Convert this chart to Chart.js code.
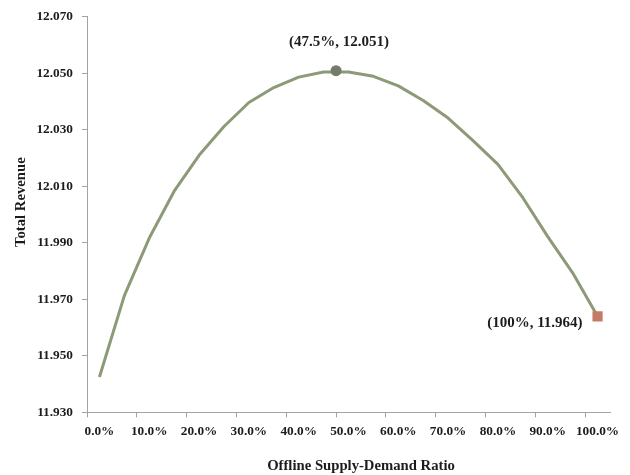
<!DOCTYPE html>
<html>
<head>
<meta charset="utf-8">
<title>Total Revenue vs Offline Supply-Demand Ratio</title>
<script src="https://cdn.jsdelivr.net/npm/chart.js@4.4.1/dist/chart.umd.min.js"></script>
<style>
  html, body { margin: 0; padding: 0; background: #fff; }
  #myChart { display: block; }
</style>
</head>
<body>
<canvas id="myChart" width="630" height="475"></canvas>
<script>
// offline supply-demand ratio (%), one point every 5%
var ratios = [0, 5, 10, 15, 20, 25, 30, 35, 40, 45, 50, 55, 60, 65, 70, 75, 80, 85, 90, 95, 100];
var revenue = [11.9425, 11.9713, 11.9917, 12.0083, 12.0210, 12.0312, 12.0397, 12.0450, 12.0487, 12.0505, 12.0505,
               12.0490, 12.0456, 12.0404, 12.0342, 12.0262, 12.0178, 12.0060, 11.9922, 11.9794, 11.9640];

// highlighted points
var peakPoint = [47.5, 12.051];
var endPoint = [100, 11.964];
var peakLabel = "(47.5%, 12.051)";
var endLabel = "(100%, 11.964)";

// axis ticks (x tick marks sit between the 5% categories)
var xTickMarks = [-2.5, 7.5, 17.5, 27.5, 37.5, 47.5, 57.5, 67.5, 77.5, 87.5, 97.5];
var xTickLabels = ["0.0%", "10.0%", "20.0%", "30.0%", "40.0%", "50.0%", "60.0%", "70.0%", "80.0%", "90.0%", "100.0%"];
var yTicks = [11.930, 11.950, 11.970, 11.990, 12.010, 12.030, 12.050, 12.070];

var xTitle = "Offline Supply-Demand Ratio";
var yTitle = "Total Revenue";

var serif = "'Liberation Serif', 'Times New Roman', serif";
var axisColor = "#a3a3a3";
var textColor = "#1c1c1c";

// labels and axis titles drawn on top of the plot
const notes = {
  id: "notes",
  afterDraw(chart) {
    const ctx = chart.ctx;
    const xs = chart.scales.x;
    const ys = chart.scales.y;
    const a = chart.chartArea;
    ctx.save();
    ctx.fillStyle = textColor;
    ctx.textBaseline = "alphabetic";
    ctx.font = "bold 15px " + serif;
    ctx.textAlign = "center";
    ctx.fillText(peakLabel, xs.getPixelForValue(peakPoint[0]) + 3, ys.getPixelForValue(peakPoint[1]) - 25);
    ctx.textAlign = "right";
    ctx.fillText(endLabel, xs.getPixelForValue(endPoint[0]) - 15, ys.getPixelForValue(endPoint[1]) + 11);

    // axis titles
    ctx.font = "bold 14.7px " + serif;
    ctx.textAlign = "center";
    ctx.fillText(xTitle, (a.left + a.right) / 2 + 12.5, 470);
    ctx.translate(25, (a.top + a.bottom) / 2 - 12.5);
    ctx.rotate(-Math.PI / 2);
    ctx.fillText(yTitle, 0, 0);
    ctx.restore();
  }
};

new Chart("myChart", {
  type: "line",
  data: {
    datasets: [{
      data: [{ x: peakPoint[0], y: peakPoint[1] }],
      showLine: false,
      pointRadius: 5.5,
      pointBackgroundColor: "#737b69",
      pointBorderWidth: 0,
      order: 0
    }, {
      data: [{ x: endPoint[0], y: endPoint[1] }],
      showLine: false,
      pointStyle: "rect",
      pointRadius: 7.2,
      pointBackgroundColor: "#c47c66",
      pointBorderWidth: 0,
      order: 0
    }, {
      data: ratios.map((r, i) => ({ x: r, y: revenue[i] })),
      borderColor: "#8d9a77",
      borderWidth: 3,
      borderJoinStyle: "round",
      pointRadius: 0,
      tension: 0,
      order: 1
    }]
  },
  options: {
    responsive: false,
    animation: false,
    layout: { padding: { top: 14.7, right: 20, bottom: 0, left: 0 } },
    plugins: {
      legend: { display: false },
      tooltip: { enabled: false }
    },
    scales: {
      x: {
        type: "linear",
        min: -2.5,
        max: 102.5,
        afterBuildTicks: function (scale) {
          scale.ticks = xTickMarks.map(v => ({ value: v }));
        },
        afterFit: function (scale) { scale.height = 62.7; },
        grid: { drawOnChartArea: false, tickLength: 5, color: axisColor },
        border: { color: axisColor, width: 1 },
        ticks: {
          autoSkip: false,
          maxRotation: 0,
          labelOffset: 12.45,
          padding: 6,
          color: textColor,
          font: { family: serif, size: 13.3, weight: "bold" },
          callback: function (v, i) { return xTickLabels[i]; }
        }
      },
      y: {
        type: "linear",
        min: 11.93,
        max: 12.07,
        afterBuildTicks: function (scale) {
          scale.ticks = yTicks.map(v => ({ value: v }));
        },
        afterFit: function (scale) { scale.width = 87; },
        grid: { drawOnChartArea: false, tickLength: 5, color: axisColor },
        border: { color: axisColor, width: 1 },
        ticks: {
          padding: 9,
          color: textColor,
          font: { family: serif, size: 13.3, weight: "bold" },
          callback: function (v) { return v.toFixed(3); }
        }
      }
    }
  },
  plugins: [notes]
});
</script>
</body>
</html>
